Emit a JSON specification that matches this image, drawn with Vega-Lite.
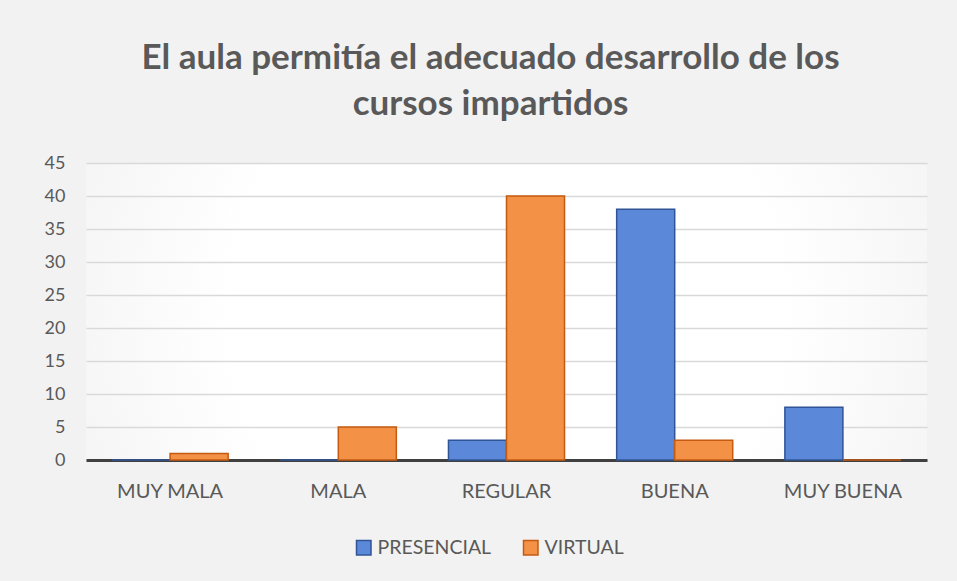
{
  "$schema": "https://vega.github.io/schema/vega-lite/v6.json",
  "autosize": "none",
  "width": 841,
  "height": 297,
  "padding": {"left": 86, "top": 163, "right": 30, "bottom": 121},
  "background": "#f2f2f2",
  "title": {
    "text": ["El aula permitía el adecuado desarrollo de los", "cursos impartidos"],
    "anchor": "middle",
    "dx": -16,
    "offset": 32,
    "font": "Lato",
    "fontSize": 35,
    "fontWeight": "bold",
    "color": "#595959",
    "lineHeight": 46
  },
  "data": {
    "values": [
      {"categoria": "MUY MALA", "modalidad": "PRESENCIAL", "valor": 0},
      {"categoria": "MUY MALA", "modalidad": "VIRTUAL", "valor": 1},
      {"categoria": "MALA", "modalidad": "PRESENCIAL", "valor": 0},
      {"categoria": "MALA", "modalidad": "VIRTUAL", "valor": 5},
      {"categoria": "REGULAR", "modalidad": "PRESENCIAL", "valor": 3},
      {"categoria": "REGULAR", "modalidad": "VIRTUAL", "valor": 40},
      {"categoria": "BUENA", "modalidad": "PRESENCIAL", "valor": 38},
      {"categoria": "BUENA", "modalidad": "VIRTUAL", "valor": 3},
      {"categoria": "MUY BUENA", "modalidad": "PRESENCIAL", "valor": 8},
      {"categoria": "MUY BUENA", "modalidad": "VIRTUAL", "valor": 0}
    ]
  },
  "mark": {"type": "bar", "strokeWidth": 1.5, "fillOpacity": 1},
  "encoding": {
    "x": {
      "field": "categoria",
      "type": "nominal",
      "sort": ["MUY MALA", "MALA", "REGULAR", "BUENA", "MUY BUENA"],
      "scale": {"paddingInner": 0.31, "paddingOuter": 0.155},
      "axis": {
        "title": null,
        "labelAngle": 0,
        "labelFont": "Lato",
        "labelFontSize": 20,
        "labelColor": "#595959",
        "labelPadding": 21,
        "ticks": false,
        "domainColor": "#404040",
        "domainWidth": 3,
        "grid": false
      }
    },
    "xOffset": {"field": "modalidad", "type": "nominal", "sort": ["PRESENCIAL", "VIRTUAL"]},
    "y": {
      "field": "valor",
      "type": "quantitative",
      "scale": {"domain": [0, 45]},
      "axis": {
        "title": null,
        "values": [0, 5, 10, 15, 20, 25, 30, 35, 40, 45],
        "labelFont": "Lato",
        "labelFontSize": 18,
        "labelColor": "#595959",
        "labelPadding": 21,
        "ticks": false,
        "domain": false,
        "gridColor": "#d9d9d9",
        "gridWidth": 1.5
      }
    },
    "color": {
      "field": "modalidad",
      "type": "nominal",
      "sort": ["PRESENCIAL", "VIRTUAL"],
      "scale": {"domain": ["PRESENCIAL", "VIRTUAL"], "range": ["#5b88d8", "#f39147"]},
      "legend": {
        "title": null,
        "orient": "none",
        "direction": "horizontal",
        "legendX": 268,
        "legendY": 375,
        "symbolType": "square",
        "symbolSize": 210,
        "symbolStrokeWidth": 1.5,
        "labelFont": "Lato",
        "labelFontSize": 19.5,
        "labelColor": "#595959",
        "columnPadding": 28,
        "labelOffset": 4
      }
    },
    "stroke": {
      "field": "modalidad",
      "type": "nominal",
      "scale": {"domain": ["PRESENCIAL", "VIRTUAL"], "range": ["#2f5597", "#c55a11"]},
      "legend": null
    }
  },
  "config": {
    "view": {
      "stroke": null,
      "fill": {
        "gradient": "radial",
        "x1": 0.5, "y1": 0.5, "r1": 0,
        "x2": 0.5, "y2": 0.5, "r2": 0.6,
        "stops": [
          {"offset": 0, "color": "#ffffff"},
          {"offset": 0.55, "color": "#ffffff"},
          {"offset": 1, "color": "#f2f2f2"}
        ]
      }
    }
  }
}
